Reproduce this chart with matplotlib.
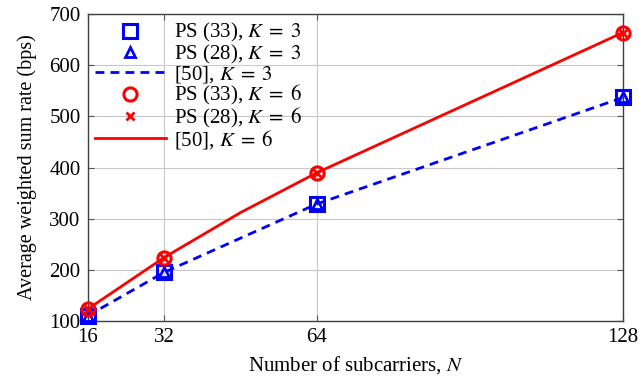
import matplotlib
matplotlib.use('Agg')
import matplotlib.pyplot as plt

plt.rcParams['font.family'] = ['Liberation Serif', 'DejaVu Serif']
plt.rcParams['mathtext.fontset'] = 'stix'

# data
n_sub = [16, 32, 64, 128]
ps33_k3 = [110, 195, 329, 537]
ps28_k3 = [110, 195, 329, 537]
ref_k3 = [110, 195, 329, 537]
ps33_k6 = [123, 224, 390, 664]
ps28_k6 = [123, 224, 390, 664]
ref_n_k6 = [16, 32, 48, 64, 128]
ref_k6 = [123, 224, 312, 390, 664]

fig = plt.figure(figsize=(6.39, 3.81), dpi=100)
ax = fig.add_axes([0.137, 0.1575, 0.838, 0.8055])

blue = '#0000ff'
red = '#ff0000'
fs = 15

ax.plot(n_sub, ps33_k3, linestyle='none', marker='s', markersize=9.5,
        markerfacecolor='none', markeredgecolor=blue, markeredgewidth=2.2,
        label=r'PS (33), $K\;=\;3$', zorder=4, clip_on=False)
ax.plot(n_sub, ps28_k3, linestyle='none', marker='^', markersize=6.5,
        markerfacecolor='none', markeredgecolor=blue, markeredgewidth=2.0,
        label=r'PS (28), $K\;=\;3$', zorder=4, clip_on=False)
ax.plot(n_sub, ref_k3, color=blue, linestyle=(0, (3.2, 2.2)), linewidth=2.0,
        label=r'[50], $K\;=\;3$', zorder=3)
ax.plot(n_sub, ps33_k6, linestyle='none', marker='o', markersize=9.5,
        markerfacecolor='none', markeredgecolor=red, markeredgewidth=2.2,
        label=r'PS (33), $K\;=\;6$', zorder=4, clip_on=False)
ax.plot(n_sub, ps28_k6, linestyle='none', marker='x', markersize=5.5,
        markeredgecolor=red, markeredgewidth=2.0,
        label=r'PS (28), $K\;=\;6$', zorder=4, clip_on=False)
ax.plot(ref_n_k6, ref_k6, color=red, linewidth=2.0,
        label=r'[50], $K\;=\;6$', zorder=3)

ax.set_xlim(16, 128)
ax.set_ylim(100, 700)
ax.set_xticks(n_sub)
ax.set_yticks(range(100, 701, 100))
ax.grid(True, color='#c8c8c8', linewidth=0.8)
ax.set_axisbelow(True)
ax.tick_params(direction='in', length=4, color='#555555', labelsize=fs,
               top=True, right=True, pad=5)
for s in ax.spines.values():
    s.set_color('#404040')
    s.set_linewidth(1.0)

ax.set_xlabel(r'Number of subcarriers, $N$', fontsize=fs, labelpad=5)
ax.set_ylabel('Average weighted sum rate (bps)', fontsize=14.5, labelpad=9)

ax.legend(loc='upper left', frameon=False, fontsize=fs, handlelength=3.4,
          labelspacing=-0.08, handletextpad=0.4, borderaxespad=0.25,
          borderpad=0.1, bbox_to_anchor=(0.0, 1.0))

fig.savefig('out.png', dpi=100)
